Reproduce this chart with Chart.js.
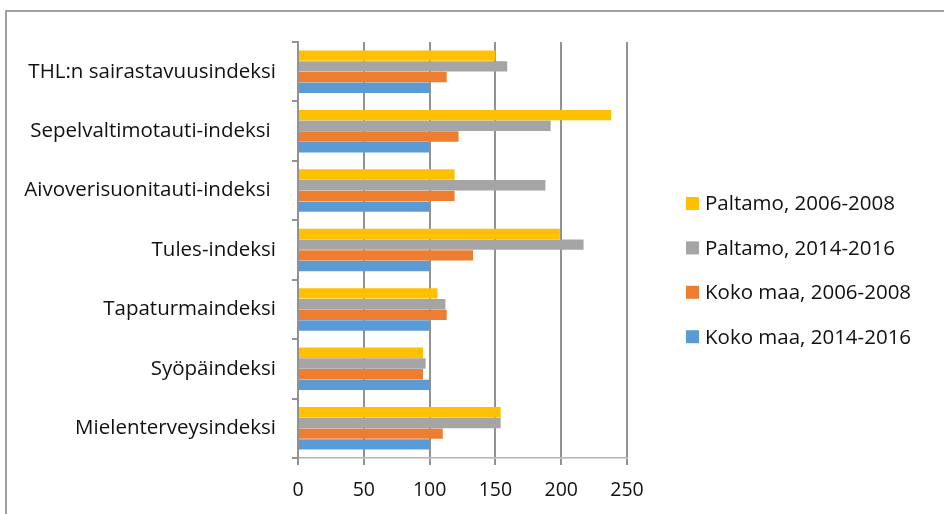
<!DOCTYPE html>
<html>
<head>
<meta charset="utf-8">
<script src="https://cdn.jsdelivr.net/npm/chart.js@4/dist/chart.umd.min.js"></script>
<style>
  html, body { margin: 0; padding: 0; background: #fff; overflow: hidden; }
  #frame { position: absolute; left: 5px; top: 10px; width: 1000px; height: 600px; border: 2px solid #a0a0a0; }
  #chart { position: absolute; left: 0; top: 0; }
</style>
</head>
<body>
<div id="frame"></div>
<canvas id="chart" width="944" height="514"></canvas>
<script>
// indeksit, koko maa = 100
const categories = [
    "THL:n sairastavuusindeksi",
    "Sepelvaltimotauti-indeksi ",
    "Aivoverisuonitauti-indeksi ",
    "Tules-indeksi",
    "Tapaturmaindeksi",
    "Syöpäindeksi",
    "Mielenterveysindeksi"
];
const paltamo_0608 = [150, 238, 119, 199, 106, 95, 154];
const paltamo_1416 = [159, 192, 188, 217, 112, 97, 154];
const kokomaa_0608 = [113, 122, 119, 133, 113, 95, 110];
const kokomaa_1416 = [100, 100, 100, 100, 100, 100, 100];
const xTicks = [0, 50, 100, 150, 200, 250];

const FONT = "'Open Sans'";
const gridGray = "#929292";

// legend drawn by hand on the right side
const sideLegend = {
    id: "sideLegend",
    afterDraw(chart) {
        const ctx = chart.ctx;
        ctx.save();
        ctx.font = "20.5px " + FONT;
        ctx.textBaseline = "middle";
        ctx.textAlign = "left";
        chart.data.datasets.forEach((ds, i) => {
            let y = 203.5 + i * 44.4;
            ctx.fillStyle = ds.backgroundColor;
            ctx.fillRect(686, y - 6.5, 13, 13);
            ctx.fillStyle = "#111";
            ctx.fillText(ds.label, 705, y + 1);
        });
        ctx.restore();
    }
};

new Chart(document.getElementById("chart").getContext("2d"), {
    type: "bar",
    data: {
        labels: categories,
        datasets: [
            { label: "Paltamo, 2006-2008", data: paltamo_0608, backgroundColor: "#FFC000" },
            { label: "Paltamo, 2014-2016", data: paltamo_1416, backgroundColor: "#A5A5A5" },
            { label: "Koko maa, 2006-2008", data: kokomaa_0608, backgroundColor: "#ED7D31" },
            { label: "Koko maa, 2014-2016", data: kokomaa_1416, backgroundColor: "#5B9BD5" }
        ]
    },
    options: {
        indexAxis: "y",
        responsive: false,
        animation: false,
        categoryPercentage: 0.72,
        barPercentage: 0.97,
        layout: { padding: { left: 0, top: 42, right: 944 - 627, bottom: 0 } },
        plugins: { legend: { display: false }, tooltip: { enabled: false } },
        scales: {
            x: {
                min: 0,
                max: 250,
                afterBuildTicks: s => { s.ticks = xTicks.map(v => ({ value: v })); },
                afterFit: s => { s.height = 514 - 458; },
                border: { display: true, color: "#b4b4b4", width: 1.5 },
                grid: { color: gridGray, lineWidth: 2, tickLength: 7, drawTicks: true },
                ticks: { color: "#111", padding: 14, font: { family: FONT, size: 19.5 } }
            },
            y: {
                afterFit: s => { s.width = 298; },
                border: { display: true, color: gridGray, width: 2 },
                grid: { drawOnChartArea: false, drawTicks: true, tickLength: 6, color: gridGray, lineWidth: 2 },
                ticks: { color: "#111", padding: 16, font: { family: FONT, size: 20.5 } }
            }
        }
    },
    plugins: [sideLegend]
});
</script>
</body>
</html>
